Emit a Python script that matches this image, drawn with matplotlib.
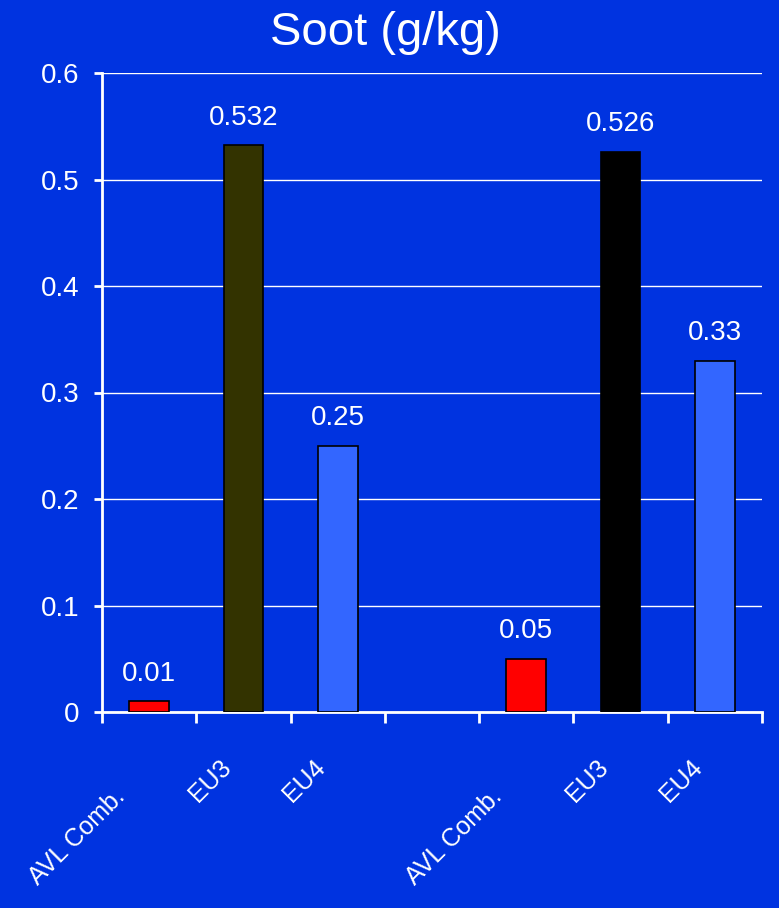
import matplotlib
matplotlib.use("Agg")
import matplotlib.pyplot as plt
import numpy as np

# soot emissions per engine, two test series side by side
categories = ["AVL Comb.", "EU3", "EU4", "", "AVL Comb.", "EU3", "EU4"]
values = [0.01, 0.532, 0.25, None, 0.05, 0.526, 0.33]
colors = ["#FF0000", "#333300", "#3366FF", None, "#FF0000", "#000000", "#3366FF"]
yticks = [0, 0.1, 0.2, 0.3, 0.4, 0.5, 0.6]
ytick_labels = ["0", "0.1", "0.2", "0.3", "0.4", "0.5", "0.6"]

bg = "#0033E0"
plt.rcParams["font.family"] = ["Liberation Sans", "DejaVu Sans"]

fig = plt.figure(figsize=(7.79, 9.08), dpi=100, facecolor=bg)
ax = fig.add_axes([102 / 779, 1 - 712 / 908, 660 / 779, 639 / 908])
ax.set_facecolor(bg)

x = np.arange(len(categories))
for xi, v, c in zip(x, values, colors):
    if v is None:
        continue
    ax.bar(xi, v, width=0.42, color=c, edgecolor="black", linewidth=1.2, zorder=3)
    ax.annotate(str(v), (xi, v), xytext=(0, 15), textcoords="offset points",
                ha="center", va="baseline", color="white", fontsize=20)

ax.set_xlim(-0.5, len(categories) - 0.5)
ax.set_ylim(0, 0.6)
ax.set_yticks(yticks)
ax.set_yticklabels(ytick_labels)
ax.grid(axis="y", color="white", linewidth=1, zorder=0)
ax.set_axisbelow(True)

# ticks sit on the category boundaries, labels go under the bars;
# longer labels are pushed a bit further down-left
ax.set_xticks(np.arange(len(categories) + 1) - 0.5)
ax.set_xticklabels([])
for xi, lab in zip(x, categories):
    n = len(lab) - 3
    ax.annotate(lab, (xi, 0), xycoords=ax.get_xaxis_transform(),
                xytext=(-17.6 - 1.44 * n, -31.4 - 3.5 * n), textcoords="offset points",
                ha="right", va="top", rotation=45, rotation_mode="anchor",
                color="white", fontsize=18, annotation_clip=False)

for side in ["top", "right"]:
    ax.spines[side].set_visible(False)
for side in ["left", "bottom"]:
    ax.spines[side].set_color("white")
    ax.spines[side].set_linewidth(2)
ax.tick_params(axis="y", colors="white", labelsize=20, length=6, width=2, pad=10)
ax.tick_params(axis="x", colors="white", length=8, width=2)

fig.text(0.495, 1 - 45 / 908, "Soot (g/kg)", ha="center", va="baseline",
         color="white", fontsize=34)

fig.savefig("out.png", dpi=100, facecolor=bg)
